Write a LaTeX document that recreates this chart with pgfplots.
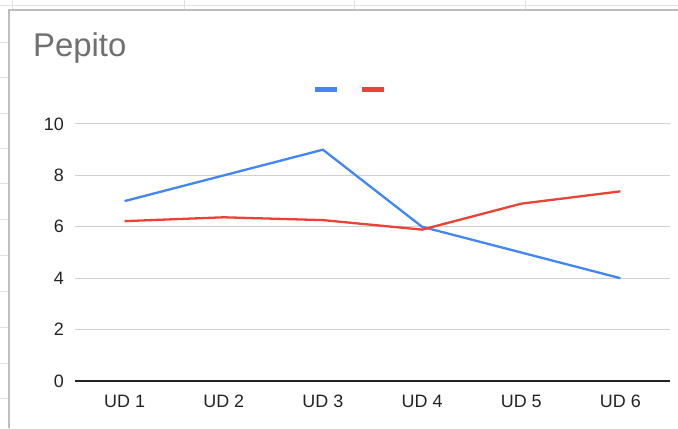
\documentclass[border=0pt]{standalone}
\usepackage{pgfplots}
\pgfplotsset{compat=1.18}
\usepackage{fontspec}
\setmainfont{Liberation Sans}
\definecolor{gblue}{HTML}{4285F4}
\definecolor{gred}{HTML}{EA4335}
\definecolor{gridc}{HTML}{D0D0D0}
\definecolor{sheet}{HTML}{E2E2E2}
\definecolor{border}{HTML}{BDBDBD}
\definecolor{ticktext}{HTML}{222222}
\definecolor{titletext}{HTML}{707070}
\begin{document}
\begin{tikzpicture}[x=1bp,y=1bp]
\useasboundingbox (0,0) rectangle (678,428);
% spreadsheet background
\draw[sheet, line width=1bp] (0,428-5.5) -- (678,428-5.5);
\foreach \xx in {12,184,354,525} {\draw[sheet, line width=1bp] (\xx,428) -- (\xx,428-10);}
\foreach \yy in {42,77,113,148,183,219,255,291,327,363,398} {\draw[sheet, line width=1bp] (0,428-\yy) -- (8,428-\yy);}
\draw[border, line width=2bp] (9,0) -- (9,428-10) -- (678,428-10);
\node[anchor=base west, inner sep=0pt, text=titletext, font=\fontsize{33}{33}\selectfont] at (33,428-56) {Pepito};
\begin{axis}[
  at={(75bp,47bp)}, anchor=south west,
  width=595bp, height=257bp, scale only axis,
  xmin=-0.5, xmax=5.5, ymin=0, ymax=10,
  xtick={0,1,2,3,4,5},
  xticklabels={UD 1,UD 2,UD 3,UD 4,UD 5,UD 6},
  ytick={0,2,4,6,8,10},
  ymajorgrids, grid style={gridc, line width=1bp},
  axis x line*=bottom, axis y line*=left,
  y axis line style={draw=none},
  x axis line style={draw=ticktext, line width=1.2bp, -},
  major tick length=0pt,
  tick style={draw=none},
  /pgf/number format/assume math mode=true,
  ticklabel style={font=\fontsize{18}{18}\selectfont, text=ticktext, inner sep=0pt},
  yticklabel style={anchor=east, xshift=-11bp},
  xticklabel style={anchor=north, yshift=-14bp},
  legend style={at={(0.4622,1.1342)}, anchor=center, draw=none, fill=none,
    inner sep=0pt, outer sep=0pt, nodes={inner sep=0pt},
    /tikz/every even column/.append style={column sep=19bp}},
  legend columns=2,
  legend image code/.code={\draw[line width=5bp] (0bp,0bp) -- (22bp,0bp);},
]
\addplot[gblue, line width=2.3bp] coordinates {(0,7) (1,8) (2,9) (3,6) (4,5) (5,4)};
\addlegendentry{}
\addplot[gred, line width=2.3bp] coordinates {(0,6.22) (1,6.37) (2,6.26) (3,5.89) (4,6.9) (5,7.38)};
\addlegendentry{}
\end{axis}
\end{tikzpicture}
\end{document}
